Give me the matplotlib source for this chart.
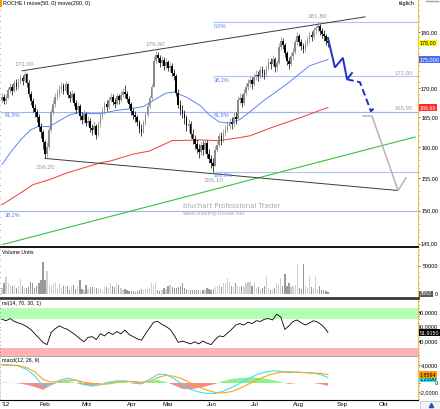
import matplotlib.pyplot as plt
import matplotlib.transforms as mtransforms
from matplotlib.patches import Rectangle
from matplotlib.lines import Line2D
from matplotlib.ticker import FixedLocator, FuncFormatter, NullFormatter, MultipleLocator
import numpy as np

plt.rcParams['font.family'] = ['Liberation Sans', 'DejaVu Sans']

# ---- data (ROCHE, daily, Jan - Aug 2012) ----
first_open = 168.0
close = [168.5, 167.8, 168.3, 169.6, 170.1, 169.4, 170.8, 170.2, 171.0, 171.7,
         171.2, 172.4, 170.9, 169.0, 167.8, 166.6, 165.9, 165.1, 163.4, 162.6,
         160.8, 158.9, 160.1, 162.9, 165.8, 167.2, 168.5, 168.9, 169.8, 170.3,
         169.5, 170.6, 168.8, 168.2, 169.0, 167.4, 166.3, 166.9, 165.2, 164.6,
         165.5, 164.1, 164.4, 163.2, 162.8, 163.6, 162.0, 163.8, 165.1, 166.0,
         167.2, 166.7, 168.0, 168.4, 167.6, 167.3, 168.6, 167.9, 168.8, 169.3,
         169.0, 168.1, 167.2, 166.0, 165.4, 165.0, 164.2, 163.1, 162.6, 164.0,
         165.3, 166.9, 168.2, 170.1, 174.8, 175.9, 175.2, 174.4, 175.0, 173.8,
         174.6, 173.5, 173.9, 172.7, 172.1, 169.2, 167.1, 166.3, 165.6, 164.8,
         163.5, 163.9, 162.2, 161.4, 160.6, 159.8, 159.2, 160.3, 159.5, 160.7,
         158.9, 158.1, 157.4, 157.0, 159.6, 160.4, 161.8, 161.1, 162.4, 162.9,
         163.6, 164.2, 163.8, 165.1, 164.7, 167.9, 168.3, 167.4, 169.2, 170.1,
         170.8, 171.3, 170.6, 171.9, 172.3, 172.0, 173.1, 172.6, 172.4, 173.4,
         174.6, 174.2, 175.1, 173.6, 174.4, 177.2, 178.3, 177.6, 176.1, 174.8,
         174.2, 175.6, 176.4, 178.1, 179.3, 178.2, 177.5, 176.9, 177.8, 178.6,
         179.4, 179.0, 180.3, 180.8, 181.1, 180.1, 179.6, 179.2, 178.4, 178.0]
high = [169.2, 168.9, 169.0, 170.2, 170.9, 170.6, 171.4, 171.5, 171.8, 172.5,
        172.3, 173.0, 172.6, 171.3, 169.5, 168.2, 167.3, 166.4, 165.6, 164.1,
        162.9, 161.2, 160.9, 163.4, 166.4, 167.9, 169.1, 169.8, 170.5, 171.1,
        170.8, 171.2, 170.9, 169.4, 169.7, 169.3, 167.9, 167.6, 167.2, 165.9,
        166.2, 165.8, 165.2, 164.9, 163.9, 164.3, 163.9, 164.4, 165.7, 166.8,
        167.8, 167.9, 168.6, 169.2, 168.9, 168.2, 169.1, 169.0, 169.4, 170.0,
        170.5, 169.5, 168.6, 167.6, 166.5, 166.1, 165.4, 164.6, 163.8, 164.6,
        165.9, 167.5, 168.8, 170.7, 175.6, 176.6, 176.4, 175.8, 175.7, 175.4,
        175.3, 175.0, 174.6, 174.4, 173.3, 172.4, 169.8, 167.9, 167.0, 166.3,
        165.4, 164.7, 164.3, 163.0, 162.1, 161.3, 160.6, 160.9, 161.0, 161.4,
        161.2, 159.7, 158.8, 158.3, 160.2, 161.1, 162.4, 162.6, 163.0, 163.7,
        164.3, 164.9, 165.0, 165.8, 165.9, 168.6, 169.1, 168.9, 169.8, 170.9,
        171.6, 172.1, 171.9, 172.6, 173.1, 173.0, 173.8, 173.9, 173.3, 174.0,
        175.2, 175.3, 175.8, 175.4, 175.0, 177.9, 179.0, 178.9, 177.9, 176.6,
        175.4, 176.2, 177.1, 178.7, 180.0, 179.6, 178.8, 178.0, 178.5, 179.3,
        180.1, 180.2, 180.9, 181.4, 181.8, 181.5, 180.8, 180.3, 179.7, 179.1]
low = [167.4, 167.2, 167.3, 168.1, 169.2, 168.8, 169.3, 169.6, 169.9, 170.6,
       170.5, 171.0, 170.2, 168.4, 167.0, 165.9, 165.0, 164.2, 162.7, 161.5,
       159.8, 158.2, 158.5, 159.8, 162.6, 165.3, 166.8, 167.9, 168.4, 169.2,
       168.9, 169.1, 168.2, 167.5, 167.8, 166.9, 165.7, 165.8, 164.6, 163.9,
       164.1, 163.6, 163.5, 162.5, 162.0, 162.3, 161.3, 161.9, 163.4, 164.7,
       165.6, 166.0, 166.4, 167.5, 167.0, 166.5, 167.0, 167.3, 167.6, 168.4,
       168.3, 167.5, 166.6, 165.3, 164.7, 164.2, 163.5, 162.4, 161.8, 162.3,
       163.7, 165.0, 166.5, 168.0, 170.4, 174.3, 174.6, 173.7, 173.9, 173.2,
       173.3, 172.9, 172.8, 172.1, 171.3, 168.6, 166.5, 165.4, 164.8, 163.9,
       162.7, 162.6, 161.5, 160.6, 159.7, 159.0, 158.3, 158.7, 158.8, 159.1,
       158.3, 157.4, 156.7, 156.1, 156.9, 159.2, 160.0, 160.4, 160.8, 161.9,
       162.5, 163.0, 163.1, 163.4, 163.9, 164.9, 167.2, 166.8, 167.1, 168.8,
       169.7, 170.2, 169.9, 170.3, 171.4, 171.2, 171.8, 171.9, 171.6, 172.1,
       173.1, 173.4, 173.9, 172.8, 173.0, 174.2, 176.8, 176.9, 175.4, 174.0,
       173.4, 173.9, 175.0, 176.0, 177.6, 177.5, 176.8, 176.2, 176.3, 177.4,
       178.0, 178.3, 178.8, 179.7, 180.0, 179.4, 178.9, 178.4, 177.6, 177.2]
volume = [10500, 19200, 30800, 19200, 16300, 13400, 16300, 10500, 13400, 26100,
          13400, 10500, 10500, 12200, 22100, 20300, 10500, 13400, 19200, 25000,
          56900, 25000, 41300, 16300, 16300, 19200, 22100, 10500, 19200, 10500,
          14500, 13400, 15100, 7600, 12200, 16300, 9300, 13400, 25000, 8700,
          7600, 16300, 8700, 12200, 12200, 12200, 10500, 10500, 8700,
          7600, 12200, 12200, 10500, 19200, 13400, 12200, 19200, 16300, 10500,
          7600, 8700, 7600, 5800, 4600, 4600, 2900, 4600, 7600, 8700,
          7600, 8700, 8700, 10500, 19200, 13400, 19200, 7600, 4600,
          6400, 10500, 8700, 13400, 16300, 12200, 10500, 10500, 12200, 13400,
          20300, 10500, 8700, 7600, 7600, 6400, 7600, 6400, 7600, 6400,
          7600, 6400, 10500, 8700, 7600, 8700, 12200, 13400, 16300,
          12200, 19200, 20300, 27900, 22100, 14500, 12200, 19200, 14500, 12200,
          13400, 12200, 20300, 22100, 22100, 13400, 19200, 10500, 12200, 8700,
          10500, 13400, 32000, 10500, 7600, 8700, 10500, 19200, 16300, 27900,
          13400, 35400, 13400, 19200, 12200, 13400, 16300, 52900, 10500, 8700,
          54000, 13400, 10500, 32000, 12200, 10500, 32000, 8700, 14500,
          7600, 6400, 4600, 3553]

ma50_day = [0, 4, 9, 14, 18, 23, 28, 33, 38, 43, 48, 55, 62, 69, 76, 80, 84, 90,
            97, 101, 106, 111, 116, 122, 128, 139, 150, 159]
ma50 = [157.2, 159.1, 161.2, 162.9, 163.5, 163.4, 164.4, 165.4, 165.8, 165.6,
        165.6, 166.1, 166.4, 166.8, 168.3, 169.1, 169.3, 168.4, 166.9, 165.4,
        164.2, 164.0, 164.6, 166.2, 167.9, 170.7, 173.9, 175.0]
ma200_day = [0, 9, 15, 23, 32, 40, 48, 53, 64, 72, 83, 97, 106, 116, 121, 131, 147, 159]
ma200 = [150.9, 152.7, 154.0, 154.8, 155.9, 156.7, 157.5, 157.8, 158.9, 159.4,
         161.1, 161.2, 161.1, 161.6, 161.9, 163.2, 165.1, 166.65]

rsi_day = list(range(0, 160, 2)) + [159]
rsi = [70, 68, 71, 67, 65, 63, 60, 56, 50, 44,
       38, 35, 52, 57, 61, 58, 56, 52, 48, 43,
       39, 45, 46, 42, 50, 47, 52, 49, 53, 50,
       55, 49, 46, 43, 41, 50, 58, 66, 67, 63,
       60, 56, 48, 38, 40, 38, 36, 39, 36, 40,
       37, 35, 42, 47, 46, 51, 56, 62, 64, 62,
       66, 64, 68, 67, 70, 71, 69, 77, 73, 56,
       61, 67, 69, 65, 62, 65, 68, 66, 62, 56, 51.915]

macd_day = list(range(0, 160, 4)) + [159]
macd = [4.1, 4.0, 3.8, 3.0, 1.6, -0.7, -0.3, 0.6, 1.1, 0.6,
        -0.3, -0.7, -0.4, 0.1, 0.5, 0.5, 0.2, -0.1, 0.8, 1.9,
        1.9, 1.0, -0.4, -1.4, -2.0, -2.3, -2.3, -1.8, -1.0, -0.1,
        0.9, 1.8, 2.4, 2.7, 2.6, 2.3, 2.4, 2.3, 2.2, 1.8, 1.2]
macd_signal = [4.0, 3.95, 3.9, 3.4, 2.5, 0.8, 0.2, 0.3, 0.6, 0.6,
               0.2, -0.1, -0.3, -0.2, 0.1, 0.3, 0.35, 0.2, 0.4, 1.2,
               1.7, 1.5, 0.9, 0.0, -0.9, -1.6, -2.1, -2.2, -1.9, -1.2,
               -0.3, 0.6, 1.4, 2.0, 2.4, 2.5, 2.4, 2.3, 2.2, 2.1, 1.8594]

swing_day = [11, 21, 75, 103, 154]
swing_price = [173.00, 158.20, 176.60, 156.10, 181.80]
swing_above = [True, False, True, False, True]

fib_levels = [181.80, 172.00, 165.95, 156.10]
fib_names = ['0,0%', '38,2%', '61,8%', '100,0%']
fib_start = 103
old_fib_levels = [165.95, 149.90]
old_fib_names = ['61,8%', '38,2%']
level_tags = [172.00, 165.95]

upper_trend_day, upper_trend = [9.8, 177.1], [173.0, 182.8]
lower_trend_day, lower_trend = [21.0, 193.2], [158.2, 153.1]
support_day, support = [0.5, 201.5], [144.9, 161.7]
fc_a_day, fc_a = [159, 162.4, 166.3, 168.3, 170.7], [178.9, 173.6, 175.3, 171.5, 172.6]
fc_b_day, fc_b = [168.3, 174.6, 180.0, 182.4], [171.5, 171.0, 166.0, 166.9]
fc_c_day, fc_c = [176.1, 180.5, 193.2, 197.1], [165.2, 165.2, 153.1, 155.1]

month_names = ["'12", 'Feb', 'Mrz', 'Apr', 'Mai', 'Jun', 'Jul', 'Aug', 'Sep', 'Okt']
month_day = [2, 21, 41.5, 63.5, 81, 102.5, 123.5, 144.5, 166, 186]

# ---- layout (pixel based) ----
W, H = 440, 409
AX_RIGHT = 418
FS = 4.0          # axis text
TAG_FS = 3.9      # last value tags
YELLOW = '#f2c43c'


def de(v, n):
    return f'{v:.{n}f}'.replace('.', ',')


def panel(top, bottom):
    return [0, 1 - bottom / H, AX_RIGHT / W, (bottom - top) / H]


def ftext(px, py, s, **kw):
    kw.setdefault('fontsize', FS)
    fig.text(px / W, 1 - py / H, s, va='center', **kw)


def value_tag(ax, y, text, fc, tc):
    tr = mtransforms.blended_transform_factory(ax.transAxes, ax.transData)
    ax.text(1 + 1.8 / AX_RIGHT, y, text, transform=tr, ha='left', va='center',
            fontsize=TAG_FS, color=tc, clip_on=False, zorder=10,
            bbox=dict(boxstyle='square,pad=0.15', fc=fc, ec='none'))


def style_axes(ax, ticks, fmt, bottom_color, bottom_lw):
    for s in ('top', 'left'):
        ax.spines[s].set_visible(False)
    ax.spines['right'].set_color(YELLOW)
    ax.spines['right'].set_linewidth(0.8)
    ax.spines['bottom'].set_color(bottom_color)
    ax.spines['bottom'].set_linewidth(bottom_lw)
    ax.yaxis.set_major_locator(FixedLocator(ticks))
    ax.yaxis.set_major_formatter(FuncFormatter(fmt))
    ax.yaxis.set_minor_formatter(NullFormatter())
    ax.yaxis.set_ticks_position('both')
    ax.tick_params(axis='y', which='both', labelleft=False, labelright=True,
                   direction='out', width=0.4, colors='black', labelsize=FS)
    ax.tick_params(axis='y', which='major', length=1.5, pad=13)
    ax.tick_params(axis='y', which='minor', length=1.0)
    ax.tick_params(axis='x', which='both', bottom=False, labelbottom=False)
    plt.setp(ax.yaxis.get_majorticklabels(), ha='right')


fig = plt.figure(figsize=(W / 100, H / 100), dpi=100)
fig.patch.set_facecolor('white')

ax_p = fig.add_axes(panel(0, 247))
ax_v = fig.add_axes(panel(249, 298), sharex=ax_p)
ax_r = fig.add_axes(panel(300, 356), sharex=ax_p)
ax_m = fig.add_axes(panel(357, 400), sharex=ax_p)
ax_p.set_xlim(-0.976, 202.93)

days = np.arange(len(close))
c = np.array(close)
o = np.r_[first_open, c[:-1]]
up = c >= o

# ---- price panel ----
ax_p.set_yscale('log')
ax_p.set_ylim(144.52, 185.97)
# the 175 label sits under the blue MA tag in the original
style_axes(ax_p, [145, 150, 155, 160, 165, 170, 175, 180],
           lambda v, p: '' if round(v) == 175 else de(v, 2), 'black', 1.3)
ax_p.yaxis.set_minor_locator(MultipleLocator(1))
x_end = ax_p.get_xlim()[1]

ax_p.hlines(fib_levels, fib_start, x_end, colors='#b0c3f6', lw=0.8, zorder=1)
ax_p.hlines(old_fib_levels, ax_p.get_xlim()[0], x_end, colors='#9fb5f3', lw=0.8, zorder=1)
for lvl, name in zip(fib_levels, fib_names):
    ax_p.annotate(name, (fib_start, lvl), xytext=(0.5, -0.6), textcoords='offset points',
                  ha='left', va='top', fontsize=4.0, color='#5f7fe6')
for lvl, name in zip(old_fib_levels, old_fib_names):
    ax_p.annotate(name, (1.5, lvl), xytext=(0, -0.6), textcoords='offset points',
                  ha='left', va='top', fontsize=4.0, color='#5f7fe6')
for lvl in level_tags:
    ax_p.annotate(de(lvl, 2), (200.5, lvl), xytext=(0, 0.8), textcoords='offset points',
                  ha='right', va='bottom', fontsize=4.3, color='#a0a0a0')

ax_p.plot(support_day, support, color='#35c435', lw=0.8, zorder=2)
ax_p.plot(ma200_day, ma200, color='#f03a3a', lw=0.7, zorder=2)
ax_p.plot(ma50_day, ma50, color='#5d84f2', lw=0.7, zorder=2)
ax_p.plot(upper_trend_day, upper_trend, color='#3c3c3c', lw=0.7, zorder=2)
ax_p.plot(lower_trend_day, lower_trend, color='#3c3c3c', lw=0.7, zorder=2)

col = np.where(up, '#8c8c8c', 'black')
ax_p.vlines(days, low, high, colors=col, lw=0.5, zorder=3)
ax_p.bar(days, np.maximum(np.abs(c - o), 0.12), bottom=np.minimum(o, c), width=0.8,
         color=list(col), lw=0, zorder=3)

ax_p.plot(fc_a_day, fc_a, color='#1f30c0', lw=1.4, zorder=4, solid_joinstyle='miter')
ax_p.plot(fc_b_day, fc_b, color='#1f30c0', lw=1.4, zorder=4, linestyle=(0, (3.5, 1.8)))
ax_p.plot(fc_c_day, fc_c, color='#b4b4b4', lw=1.1, zorder=4)

for d, pr, above in zip(swing_day, swing_price, swing_above):
    ax_p.annotate(de(pr, 2), (d, pr), xytext=(0, 3 if above else -4), textcoords='offset points',
                  ha='center', va='bottom' if above else 'top', fontsize=4.6, color='#9a9a9a')

ax_p.text(0.438, 0.166, 'bluchart Professional Trader', transform=ax_p.transAxes,
          family='DejaVu Sans', fontsize=5.0, color='#a8a8a8', va='center')
ax_p.text(0.438, 0.134, 'www.trading-house.net', transform=ax_p.transAxes,
          family='DejaVu Sans', fontsize=3.9, color='#a8a8a8', va='center')

value_tag(ax_p, close[-1], de(close[-1], 2), '#ffff00', 'black')
value_tag(ax_p, ma50[-1], de(ma50[-1], 3), '#4a6cf0', 'white')
value_tag(ax_p, ma200[-1], de(ma200[-1], 2), '#ff2a2a', 'white')

# ---- volume panel ----
ax_v.set_ylim(-7143, 80357)
style_axes(ax_v, [0, 50000], lambda v, p: f'{v:.0f}', '#3a3a3a', 2.0)
ax_v.yaxis.set_minor_locator(MultipleLocator(10000))
ax_v.bar(days, volume, width=0.6, color=list(np.where(up, '#cfcfcf', '#9a9a9a')), lw=0)
value_tag(ax_v, 0, f'{volume[-1]}', '#5a5a5a', 'white')

# ---- rsi panel ----
ax_r.set_ylim(19.3, 96.6)
style_axes(ax_r, [40, 60, 80], lambda v, p: de(v, 4), '#9a9a9a', 0.6)
ax_r.yaxis.set_minor_locator(MultipleLocator(5))
ax_r.axhspan(70, 85.5, color='#b3ffb3', lw=0, zorder=0)
ax_r.axhspan(19.3, 30, color='#ffb3b3', lw=0, zorder=0)
ax_r.plot(rsi_day, rsi, color='black', lw=0.6)
value_tag(ax_r, rsi[-1], de(rsi[-1], 4), 'black', 'white')

# ---- macd panel ----
ax_m.set_ylim(-3.78, 5.78)
# the 2,0000 label is covered by the signal tag in the original
style_axes(ax_m, [-2, 0, 2, 4],
           lambda v, p: '0' if v == 0 else ('' if v == 2 else de(v, 4)), 'black', 0.8)
ax_m.yaxis.set_minor_locator(MultipleLocator(0.5))
hist = np.array(macd) - np.array(macd_signal)
ax_m.fill_between(macd_day, hist, 0, where=hist >= 0, interpolate=True, color='#8ef08e', lw=0)
ax_m.fill_between(macd_day, hist, 0, where=hist < 0, interpolate=True, color='#f58c8c', lw=0)
ax_m.plot(macd_day, macd, color='#38e4f2', lw=0.8)
ax_m.plot(macd_day, macd_signal, color='#ffa31a', lw=0.8)
value_tag(ax_m, macd[-1] - 0.35, de(macd[-1], 4), '#38e4f2', 'black')
value_tag(ax_m, macd_signal[-1], de(macd_signal[-1], 4), '#ff9d00', 'black')

ax_m.xaxis.set_major_locator(FixedLocator(month_day))
ax_m.set_xticklabels(month_names)
ax_m.tick_params(axis='x', which='major', bottom=True, labelbottom=True, length=0,
                 pad=1.5, labelsize=4.5)

# ---- header / frame details ----
fig.add_artist(Rectangle((0, 1 - 7 / H), 1.5 / W, 7 / H, transform=fig.transFigure,
                         color='#ff9900', lw=0))
ftext(3, 3.5, 'ROCHE I move(50, 0) move(200, 0)', fontsize=3.9, color='black')
ftext(415, 4, 'täglich', fontsize=4.0, color='black', ha='right')
fig.add_artist(Line2D([426 / W, 438 / W], [1 - 1.2 / H] * 2, color='#a0a0a0', lw=1.0))
ftext(2, 252.5, 'Volume Units', fontsize=3.8)
ftext(2, 303.5, 'rsi(14, 70, 30, 1)', fontsize=3.8)
ftext(2, 360.5, 'macd(12, 26, 9)', fontsize=3.8)
fig.add_artist(Rectangle((420 / W, 0), 20 / W, 8.5 / H, transform=fig.transFigure,
                         fc='#f4f4f4', ec='#b8b8b8', lw=0.5))
fig.add_artist(Line2D([431 / W], [1 - 404.5 / H], marker='^', markersize=3,
                      color='#2050d0', lw=0))

fig.savefig('out.png', dpi=100, facecolor='white')
